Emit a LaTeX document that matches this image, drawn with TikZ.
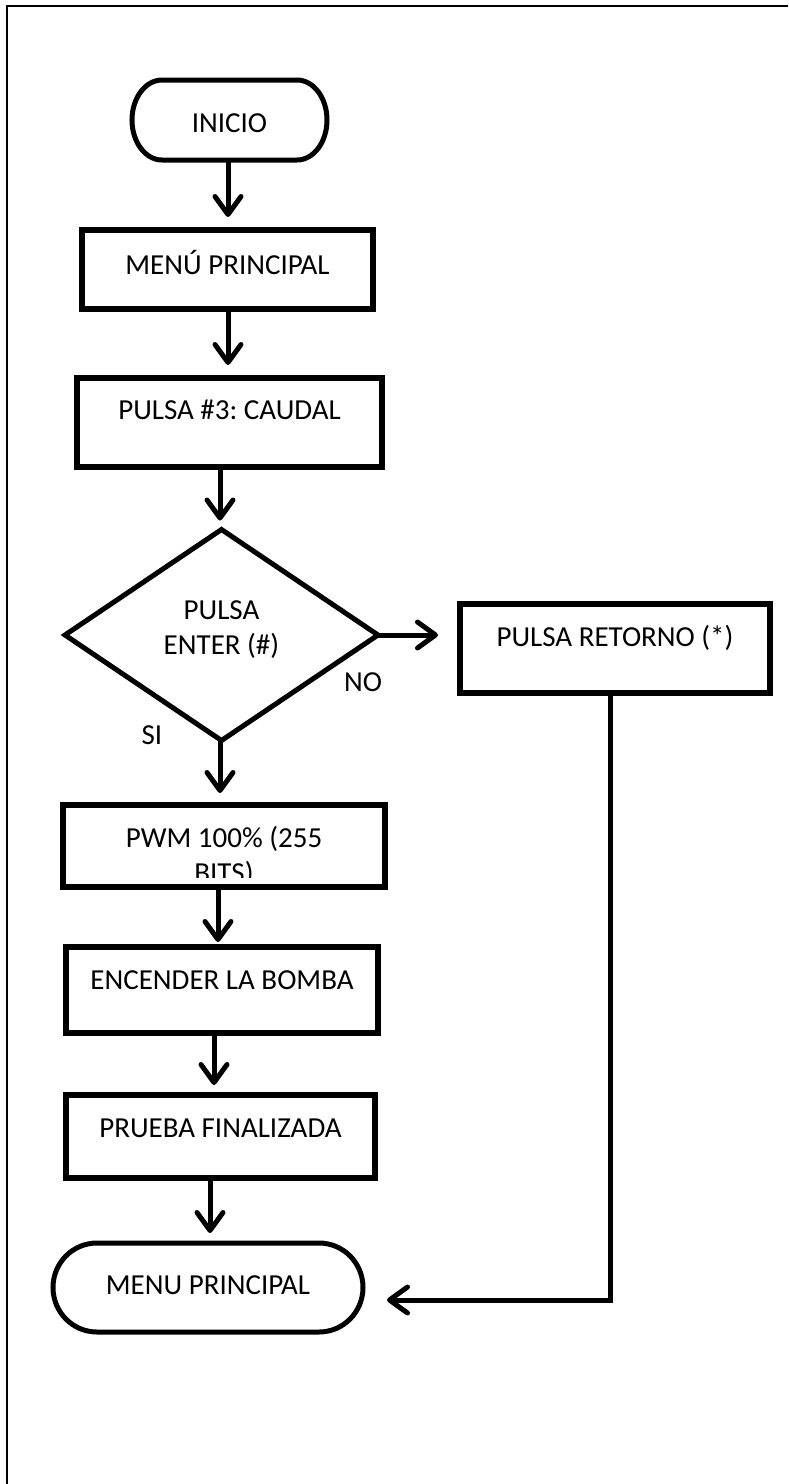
\documentclass[tikz,border=0pt]{standalone}
\usepackage{fontspec}
\setmainfont{Carlito}
\usetikzlibrary{arrows.meta,shapes.geometric}
\begin{document}
\frenchspacing
\begin{tikzpicture}[x=1pt,y=-1pt,
  every node/.style={font=\fontsize{29}{35}\selectfont, inner sep=0pt, outer sep=0pt},
  procbox/.style={draw, line width=5.5pt, rectangle, anchor=north west},
  termbox/.style={rectangle, anchor=north west},
  termline/.style={line width=5pt},
  decision/.style={draw, diamond, line width=5pt, minimum width=313pt, minimum height=211pt},
  flow/.style={line width=5pt, -{Straight Barb[length=18pt,width=26pt,round]}},
  lbl/.style={anchor=base}
]
\useasboundingbox (0,0) rectangle (788,1484);
\draw[line width=1.5pt] (7,1484) -- (7,6) -- (788,6);

% terminal: INICIO
\node[termbox, minimum width=195pt, text height=52.2pt, text depth=27.8pt] (ini) at (132,80) {INICIO};
\draw[termline] ([xshift=30pt]ini.north west) -- ([xshift=-30pt]ini.north east)
  arc[start angle=90, end angle=-90, x radius=30pt, y radius=40pt]
  -- ([xshift=30pt]ini.south west)
  arc[start angle=-90, end angle=-270, x radius=30pt, y radius=40pt] -- cycle;

\node[procbox, minimum width=291pt, text height=44.2pt, text depth=34.8pt] (menu) at (82,230) {MENÚ PRINCIPAL};
\node[procbox, minimum width=305pt, text height=41pt, text depth=48pt] (pulsa) at (77,378) {PULSA \#3: CAUDAL};

\node[decision, text height=20pt, text depth=51.4pt] (dia) at (221.5,635)
  {\begin{tabular}[t]{@{}c@{}}PULSA\\ENTER (\#)\end{tabular}};

\node[procbox, minimum width=310pt, text height=42.2pt, text depth=46.8pt] (ret) at (460,604) {PULSA RETORNO (*)};

\node[procbox, minimum width=322pt, minimum height=82pt] (pwm) at (63,805) {};
\begin{scope}
  \clip (63,805) rectangle (385,877);
  \node[lbl] (pwmtxt) at (224,847.2) {\begin{tabular}[t]{@{}c@{}}PWM 100\% (255\\BITS)\end{tabular}};
\end{scope}

\node[procbox, minimum width=312pt, text height=42.2pt, text depth=43.8pt] (enc) at (66,947) {ENCENDER LA BOMBA};
\node[procbox, minimum width=309pt, text height=42.2pt, text depth=40.8pt] (fin) at (66,1095) {PRUEBA FINALIZADA};

% terminal: MENU PRINCIPAL
\node[termbox, minimum width=310pt, text height=51.2pt, text depth=37.8pt] (mend) at (53,1243) {MENU PRINCIPAL};
\draw[termline] ([xshift=44pt]mend.north west) -- ([xshift=-44pt]mend.north east)
  arc[start angle=90, end angle=-90, x radius=44pt, y radius=44.5pt]
  -- ([xshift=44pt]mend.south west)
  arc[start angle=-90, end angle=-270, x radius=44pt, y radius=44.5pt] -- cycle;

% labels
\node[lbl] (no) at (363,691.2) {NO};
\node[lbl] (si) at (152,744.2) {SI};

% connectors
\draw[flow, shorten >=13pt] ([xshift=-1.5pt]ini.south) -- ([xshift=-1.5pt]ini.south |- menu.north);
\draw[flow, shorten >=13pt] ([xshift=0.5pt]menu.south) -- ([xshift=0.5pt]menu.south |- pulsa.north);
\draw[flow, shorten >=9pt] ([xshift=-9.5pt]pulsa.south) -- ([xshift=-9.5pt]pulsa.south |- dia.north);
\draw[flow, shorten >=22pt] (dia.east) -- (dia.east -| ret.west);
\draw[flow, shorten >=12pt] ([xshift=-1.5pt]dia.south) -- ([xshift=-1.5pt]dia.south |- pwm.north);
\draw[flow, shorten >=5pt] ([xshift=-6pt]pwm.south) -- ([xshift=-6pt]pwm.south |- enc.north);
\draw[flow, shorten >=10pt] ([xshift=-8pt]enc.south) -- ([xshift=-8pt]enc.south |- fin.north);
\draw[flow, shorten >=10pt] ([xshift=-10.5pt]fin.south) -- ([xshift=-10.5pt]fin.south |- mend.north);
\coordinate (turn) at (610,1300);
\draw[flow, shorten >=24pt] ([xshift=-5pt]ret.south) -- (turn) -- (turn -| mend.east);
\end{tikzpicture}
\end{document}
